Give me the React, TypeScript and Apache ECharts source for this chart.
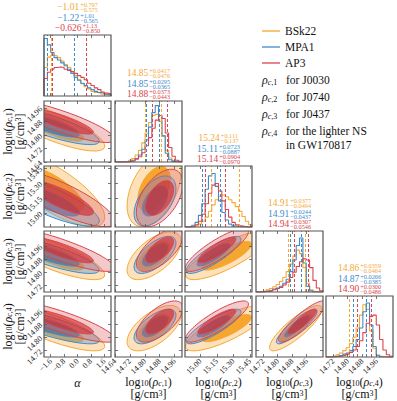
import React, { useEffect, useRef } from 'react';
import * as echarts from 'echarts';

// ---------------- data ----------------
const MODEL_NAMES = ['BSk22', 'MPA1', 'AP3'];
const LEGEND_NOTES = ['for J0030', 'for J0740', 'for J0437', 'for the lighter NS', 'in GW170817'];

const AXIS_MIN = [-2, 14.64, 14.86, 14.68, 14.68];
const AXIS_MAX = [2, 15.0, 15.47, 15.05, 15.05];
const TICK_VALUES = [
  [-1.6, -0.8, 0.0, 0.8, 1.6],
  [14.64, 14.72, 14.8, 14.88, 14.96],
  [15.0, 15.15, 15.3, 15.45],
  [14.72, 14.8, 14.88, 14.96],
  [14.72, 14.8, 14.88, 14.96],
];
const TICK_LABELS = [
  ['−1.6', '−0.8', '0.0', '0.8', '1.6'],
  ['14.64', '14.72', '14.80', '14.88', '14.96'],
  ['15.00', '15.15', '15.30', '15.45'],
  ['14.72', '14.80', '14.88', '14.96'],
  ['14.72', '14.80', '14.88', '14.96'],
];

// histogram binning (20 bins per parameter)
const BIN_START = [-2, 14.64, 14.86, 14.68, 14.68];
const BIN_WIDTH = [0.2, 0.018, 0.0305, 0.0185, 0.0185];

// histogram heights (normalised to panel height)
const H_ALPHA_BSK22 = [0.49, 0.67, 0.7, 0.69, 0.66, 0.6, 0.54, 0.49, 0.42, 0.35, 0.28, 0.21, 0.16, 0.12, 0.08, 0.06, 0.05, 0.03, 0.02, 0.02];
const H_ALPHA_MPA1 = [0.99, 0.88, 0.75, 0.66, 0.62, 0.57, 0.52, 0.46, 0.39, 0.32, 0.27, 0.22, 0.18, 0.14, 0.11, 0.08, 0.06, 0.05, 0.03, 0.02];
const H_ALPHA_AP3 = [0.3, 0.41, 0.46, 0.49, 0.5, 0.49, 0.46, 0.44, 0.42, 0.39, 0.35, 0.32, 0.28, 0.22, 0.18, 0.14, 0.11, 0.07, 0.05, 0.04];

const H_RC1_BSK22 = [0, 0, 0, 0.01, 0.03, 0.06, 0.12, 0.2, 0.33, 0.5, 0.68, 0.8, 0.82, 0.7, 0.45, 0.2, 0.07, 0.02, 0, 0];
const H_RC1_MPA1 = [0, 0, 0, 0, 0.01, 0.03, 0.06, 0.12, 0.22, 0.38, 0.6, 0.85, 0.97, 0.8, 0.45, 0.15, 0.04, 0.01, 0, 0];
const H_RC1_AP3 = [0, 0, 0, 0, 0.01, 0.02, 0.05, 0.09, 0.16, 0.28, 0.42, 0.58, 0.72, 0.8, 0.75, 0.5, 0.25, 0.1, 0.03, 0.01];

const H_RC2_BSK22 = [0, 0, 0, 0.02, 0.05, 0.1, 0.17, 0.27, 0.38, 0.47, 0.53, 0.55, 0.52, 0.47, 0.42, 0.35, 0.27, 0.18, 0.1, 0.04];
const H_RC2_MPA1 = [0, 0.01, 0.03, 0.08, 0.2, 0.4, 0.65, 0.88, 0.92, 0.7, 0.45, 0.25, 0.12, 0.05, 0.02, 0.01, 0, 0, 0, 0];
const H_RC2_AP3 = [0, 0, 0.01, 0.04, 0.1, 0.22, 0.4, 0.58, 0.72, 0.75, 0.62, 0.45, 0.3, 0.17, 0.08, 0.04, 0.02, 0.01, 0, 0];

const H_RC3_BSK22 = [0, 0.01, 0.02, 0.04, 0.06, 0.09, 0.13, 0.18, 0.25, 0.35, 0.48, 0.62, 0.72, 0.66, 0.42, 0.15, 0.04, 0.01, 0, 0];
const H_RC3_MPA1 = [0, 0, 0.01, 0.02, 0.03, 0.05, 0.07, 0.1, 0.15, 0.22, 0.35, 0.55, 0.8, 0.93, 0.5, 0.1, 0.02, 0, 0, 0];
const H_RC3_AP3 = [0, 0, 0.01, 0.01, 0.02, 0.04, 0.06, 0.08, 0.12, 0.17, 0.25, 0.34, 0.44, 0.52, 0.57, 0.55, 0.42, 0.2, 0.07, 0.02];

const H_RC4_BSK22 = [0, 0.01, 0.02, 0.04, 0.07, 0.11, 0.16, 0.23, 0.34, 0.5, 0.72, 0.9, 0.82, 0.45, 0.15, 0.03, 0.01, 0, 0, 0];
const H_RC4_MPA1 = [0, 0, 0.01, 0.02, 0.03, 0.05, 0.07, 0.11, 0.18, 0.3, 0.5, 0.78, 0.93, 0.55, 0.18, 0.03, 0, 0, 0, 0];
const H_RC4_AP3 = [0, 0, 0, 0.01, 0.02, 0.03, 0.05, 0.08, 0.12, 0.18, 0.28, 0.42, 0.58, 0.7, 0.72, 0.55, 0.3, 0.12, 0.04, 0.01];

// summary values printed above the diagonal (median, +upper, -lower)
const MED_BSK22 = ['−1.01', '14.85', '15.24', '14.91', '14.86'];
const UP_BSK22 = ['0.797', '0.0417', '0.111', '0.0377', '0.0359'];
const LO_BSK22 = ['0.575', '0.0476', '0.137', '0.0494', '0.0464'];
const MED_MPA1 = ['−1.22', '14.85', '15.11', '14.91', '14.87'];
const UP_MPA1 = ['1.01', '0.0295', '0.0723', '0.0244', '0.0266'];
const LO_MPA1 = ['0.565', '0.0365', '0.0887', '0.0437', '0.0385'];
const MED_AP3 = ['−0.626', '14.88', '15.14', '14.94', '14.90'];
const UP_AP3 = ['1.13', '0.0373', '0.0904', '0.0307', '0.0300'];
const LO_AP3 = ['0.850', '0.0443', '0.0970', '0.0546', '0.0486'];

// 2-D contour summaries (centre, spread per parameter; correlation per panel)
// panel order: (ρ1,α) (ρ2,α) (ρ3,α) (ρ4,α) (ρ2,ρ1) (ρ3,ρ1) (ρ4,ρ1) (ρ3,ρ2) (ρ4,ρ2) (ρ4,ρ3)
const CENTER_BSK22 = [-1.5, 14.85, 15.24, 14.9, 14.855];
const SPREAD_BSK22 = [1.25, 0.058, 0.15, 0.058, 0.055];
const CORR_BSK22 = [-0.8, -0.75, -0.8, -0.8, 0.45, 0.6, 0.6, 0.8, 0.8, 0.85];
const CENTER_MPA1 = [-1.7, 14.855, 15.12, 14.905, 14.865];
const SPREAD_MPA1 = [1.2, 0.045, 0.1, 0.045, 0.042];
const CORR_MPA1 = [-0.82, -0.8, -0.82, -0.82, 0.5, 0.65, 0.65, 0.85, 0.85, 0.88];
const CENTER_AP3 = [-1.0, 14.88, 15.15, 14.935, 14.895];
const SPREAD_AP3 = [1.3, 0.05, 0.115, 0.052, 0.05];
const CORR_AP3 = [-0.85, -0.82, -0.85, -0.85, 0.5, 0.65, 0.65, 0.85, 0.85, 0.88];

// ---------------- styles / layout ----------------
const FONT = '"Liberation Serif", "DejaVu Serif", serif';
const LINE_COLORS = ['#F5A833', '#3E8ACB', '#D9454C'];
const OUTER_FILL = ['rgba(250, 200, 130, 0.55)', 'rgba(110, 160, 210, 0.45)', 'rgba(220, 100, 105, 0.35)'];
const INNER_FILL = ['rgba(245, 160, 30, 0.9)', 'rgba(35, 105, 175, 0.6)', 'rgba(210, 35, 40, 0.6)'];
const FRAME = '#555555';
const COL_X = [44, 115, 185, 256, 326];
const ROW_Y = [35, 101, 166, 231, 296];
const CELL_W = 67;
const CELL_H = 61;
const LEVELS = [2.5, 1.5];

const HISTS = [
  [H_ALPHA_BSK22, H_ALPHA_MPA1, H_ALPHA_AP3],
  [H_RC1_BSK22, H_RC1_MPA1, H_RC1_AP3],
  [H_RC2_BSK22, H_RC2_MPA1, H_RC2_AP3],
  [H_RC3_BSK22, H_RC3_MPA1, H_RC3_AP3],
  [H_RC4_BSK22, H_RC4_MPA1, H_RC4_AP3],
];
const MEDS = [MED_BSK22, MED_MPA1, MED_AP3];
const UPS = [UP_BSK22, UP_MPA1, UP_AP3];
const LOS = [LO_BSK22, LO_MPA1, LO_AP3];
const CENTERS = [CENTER_BSK22, CENTER_MPA1, CENTER_AP3];
const SPREADS = [SPREAD_BSK22, SPREAD_MPA1, SPREAD_AP3];
const CORRS = [CORR_BSK22, CORR_MPA1, CORR_AP3];

const num = (s: string) => parseFloat(s.replace('−', '-'));

let measureCtx: CanvasRenderingContext2D | null = null;
function textWidth(t: string, size: number) {
  if (!measureCtx) measureCtx = document.createElement('canvas').getContext('2d');
  if (!measureCtx) return t.length * size * 0.5;
  measureCtx.font = `${size}px "Liberation Serif"`;
  return measureCtx.measureText(t).width;
}

const makeRich = (lh: number) => ({
  n: { fontSize: 12, fontFamily: FONT, fill: '#111', color: '#111', lineHeight: lh },
  i: { fontSize: 12, fontFamily: FONT, fontStyle: 'italic', fill: '#111', color: '#111', lineHeight: lh },
  s: { fontSize: 8, fontFamily: FONT, fill: '#111', color: '#111', verticalAlign: 'bottom', lineHeight: 5 },
  si: { fontSize: 8, fontFamily: FONT, fontStyle: 'italic', fill: '#111', color: '#111', verticalAlign: 'bottom', lineHeight: 5 },
  p: { fontSize: 8, fontFamily: FONT, fill: '#111', color: '#111', verticalAlign: 'top', lineHeight: 5 },
});
const RICH = makeRich(12);
const RICH_AXIS = makeRich(10);

function logLabel(k: number) {
  return `{n|log}{s|10}{n|(}{i|ρ}{si|c}{s|,${k}}{n|)}`;
}
const UNIT_LABEL = '{n|[g/cm}{p|3}{n|]}';

const textStyle = (extra: any) => ({ align: 'left', verticalAlign: 'middle', textAlign: 'left', textVerticalAlign: 'middle', fontFamily: FONT, ...extra });

function buildOption() {
  const grid: any[] = [];
  const xAxis: any[] = [];
  const yAxis: any[] = [];
  const series: any[] = [];
  const graphic: any[] = [];

  const cells: number[][] = [];
  for (let r = 0; r < 5; r++) for (let c = 0; c <= r; c++) cells.push([r, c]);
  const order = [[1, 0], [2, 0], [3, 0], [4, 0], [2, 1], [3, 1], [4, 1], [3, 2], [4, 2], [4, 3]];
  const panelIndex = (r: number, c: number) => order.findIndex((p) => p[0] === r && p[1] === c);

  const labelFmt = (v: number, idx: number) => {
    const i = TICK_VALUES[idx].findIndex((t) => Math.abs(t - v) < 1e-6);
    return i >= 0 ? TICK_LABELS[idx][i] : '';
  };
  const tickStyle = (vals: number[]) => ({
    show: true, inside: true, length: 3, customValues: vals, lineStyle: { color: FRAME, width: 0.8 },
  });
  const labelStyle = (idx: number) => ({
    show: true, customValues: TICK_VALUES[idx], rotate: 45, margin: 3, fontSize: 8,
    fontFamily: FONT, color: '#222', formatter: (v: number) => labelFmt(v, idx),
  });
  const noLine = { show: false, onZero: false };

  cells.forEach(([r, c], g) => {
    grid.push({
      left: COL_X[c], top: ROW_Y[r], width: CELL_W, height: CELL_H,
      show: true, borderColor: FRAME, borderWidth: 1.2, backgroundColor: 'transparent', z: 10,
    });
    const xc = { type: 'value', gridIndex: g, min: AXIS_MIN[c], max: AXIS_MAX[c], splitLine: { show: false }, axisLine: noLine, z: 11 };
    xAxis.push({ ...xc, position: 'bottom', axisTick: tickStyle(TICK_VALUES[c]), axisLabel: r === 4 ? labelStyle(c) : { show: false } });
    xAxis.push({ ...xc, position: 'top', axisTick: tickStyle(TICK_VALUES[c]), axisLabel: { show: false } });
    if (r === c) {
      const yc = { type: 'value', gridIndex: g, min: 0, max: 1.05, splitLine: { show: false }, axisLine: noLine, axisTick: { show: false }, axisLabel: { show: false } };
      yAxis.push({ ...yc, position: 'left' });
      yAxis.push({ ...yc, position: 'right' });
      for (let m = 0; m < 3; m++) {
        const h = HISTS[c][m];
        const pts: number[][] = [[BIN_START[c], 0]];
        h.forEach((v, i) => pts.push([BIN_START[c] + i * BIN_WIDTH[c], v]));
        pts.push([BIN_START[c] + h.length * BIN_WIDTH[c], 0]);
        const med = num(MEDS[m][c]);
        series.push({
          type: 'line', name: MODEL_NAMES[m], xAxisIndex: 2 * g, yAxisIndex: 2 * g,
          data: pts, step: 'end', symbol: 'none', showSymbol: false, clip: true, silent: true,
          lineStyle: { color: LINE_COLORS[m], width: 1.1 },
          markLine: {
            silent: true, symbol: ['none', 'none'], label: { show: false },
            lineStyle: { color: LINE_COLORS[m], type: [3, 2], width: 1 },
            data: [{ xAxis: med - num(LOS[m][c]) }, { xAxis: med + num(UPS[m][c]) }],
          },
        });
      }
    } else {
      const yc = { type: 'value', gridIndex: g, min: AXIS_MIN[r], max: AXIS_MAX[r], splitLine: { show: false }, axisLine: noLine, z: 11 };
      yAxis.push({ ...yc, position: 'left', axisTick: tickStyle(TICK_VALUES[r]), axisLabel: c === 0 ? labelStyle(r) : { show: false } });
      yAxis.push({ ...yc, position: 'right', axisTick: tickStyle(TICK_VALUES[r]), axisLabel: { show: false } });
      const pi = panelIndex(r, c);
      for (let m = 0; m < 3; m++) {
        const cx = CENTERS[m][c], cy = CENTERS[m][r];
        const sx = SPREADS[m][c], sy = SPREADS[m][r];
        const rho = CORRS[m][pi];
        series.push({
          type: 'custom', name: MODEL_NAMES[m], xAxisIndex: 2 * g, yAxisIndex: 2 * g,
          silent: true, label: { show: false }, encode: { x: 0, y: 1 },
          data: [[cx, cy]],
          renderItem: (params: any, api: any) => {
            const ring = (k: number) => {
              const out: number[][] = [];
              for (let i = 0; i < 72; i++) {
                const t = (i / 72) * Math.PI * 2;
                const x = cx + k * sx * Math.cos(t);
                const y = cy + k * sy * (rho * Math.cos(t) + Math.sqrt(1 - rho * rho) * Math.sin(t));
                out.push(api.coord([x, y]));
              }
              return out;
            };
            const cs = params.coordSys;
            return {
              type: 'group',
              clipPath: { type: 'rect', shape: { x: cs.x, y: cs.y, width: cs.width, height: cs.height } },
              children: [
                { type: 'polygon', shape: { points: ring(LEVELS[0]) }, style: { fill: OUTER_FILL[m], stroke: LINE_COLORS[m], lineWidth: 1 } },
                { type: 'polygon', shape: { points: ring(LEVELS[1]) }, style: { fill: INNER_FILL[m], stroke: LINE_COLORS[m], lineWidth: 1 } },
              ],
            };
          },
        });
      }
    }
  });

  // titles above diagonal panels
  const titleOffsets = [-28, -17.5, -7];
  for (let c = 0; c < 5; c++) {
    const cxp = COL_X[c] + CELL_W / 2;
    for (let m = 0; m < 3; m++) {
      const med = MEDS[m][c];
      const up = '+' + UPS[m][c];
      const lo = '−' + LOS[m][c];
      const wm = textWidth(med, 9.5);
      const ws = Math.max(textWidth(up, 6.3), textWidth(lo, 6.3));
      const x0 = cxp - (wm + ws + 1) / 2;
      const y0 = ROW_Y[c] + titleOffsets[m];
      const col = LINE_COLORS[m];
      graphic.push({ type: 'text', x: x0, y: y0, style: textStyle({ text: med, fill: col, fontSize: 9.5, lineHeight: 8 }) });
      graphic.push({ type: 'text', x: x0 + wm + 1, y: y0 + 0.2, style: textStyle({ text: up + '\n' + lo, fill: col, fontSize: 6.3, lineHeight: 5.2 }) });
    }
  }

  // legend
  const legendY = [31, 47, 63];
  for (let m = 0; m < 3; m++) {
    graphic.push({ type: 'line', shape: { x1: 262, y1: legendY[m], x2: 280, y2: legendY[m] }, style: { stroke: LINE_COLORS[m], lineWidth: 1.3 } });
    graphic.push({ type: 'text', x: 285, y: legendY[m], style: textStyle({ text: MODEL_NAMES[m], fill: '#111', fontSize: 11.5 }) });
  }
  const noteY = [80, 97, 114, 131, 145];
  for (let k = 0; k < 5; k++) {
    if (k < 4) {
      graphic.push({ type: 'text', x: 262, y: noteY[k], style: textStyle({ text: `{i|ρ}{si|c}{s|,${k + 1}}`, rich: RICH }) });
    }
    graphic.push({ type: 'text', x: 286, y: noteY[k], style: textStyle({ text: LEGEND_NOTES[k], fill: '#111', fontSize: 11.5, lineHeight: 12 }) });
  }

  // x axis titles
  for (let c = 0; c < 5; c++) {
    const cxp = COL_X[c] + CELL_W / 2;
    if (c === 0) {
      graphic.push({ type: 'text', x: cxp, y: 383, style: textStyle({ text: '{i|α}', rich: RICH_AXIS, align: 'center', textAlign: 'center' }) });
    } else {
      graphic.push({ type: 'text', x: cxp, y: 382, style: textStyle({ text: logLabel(c), rich: RICH_AXIS, align: 'center', textAlign: 'center' }) });
      graphic.push({ type: 'text', x: cxp, y: 394, style: textStyle({ text: UNIT_LABEL, rich: RICH_AXIS, align: 'center', textAlign: 'center' }) });
    }
  }
  // y axis titles
  for (let r = 1; r < 5; r++) {
    const cyp = ROW_Y[r] + CELL_H / 2;
    graphic.push({ type: 'text', x: 8, y: cyp, rotation: Math.PI / 2, style: textStyle({ text: logLabel(r), rich: RICH_AXIS, align: 'center', textAlign: 'center' }) });
    graphic.push({ type: 'text', x: 19.5, y: cyp, rotation: Math.PI / 2, style: textStyle({ text: UNIT_LABEL, rich: RICH_AXIS, align: 'center', textAlign: 'center' }) });
  }

  return { animation: false, backgroundColor: '#ffffff', grid, xAxis, yAxis, series, graphic };
}

export default function App() {
  const ref = useRef<HTMLDivElement>(null);
  useEffect(() => {
    if (!ref.current) return;
    const chart = echarts.init(ref.current, null, { renderer: 'svg' });
    chart.setOption(buildOption() as any);
    return () => chart.dispose();
  }, []);
  return <div ref={ref} style={{ position: 'fixed', left: 0, top: 0, width: 397, height: 401 }} />;
}
